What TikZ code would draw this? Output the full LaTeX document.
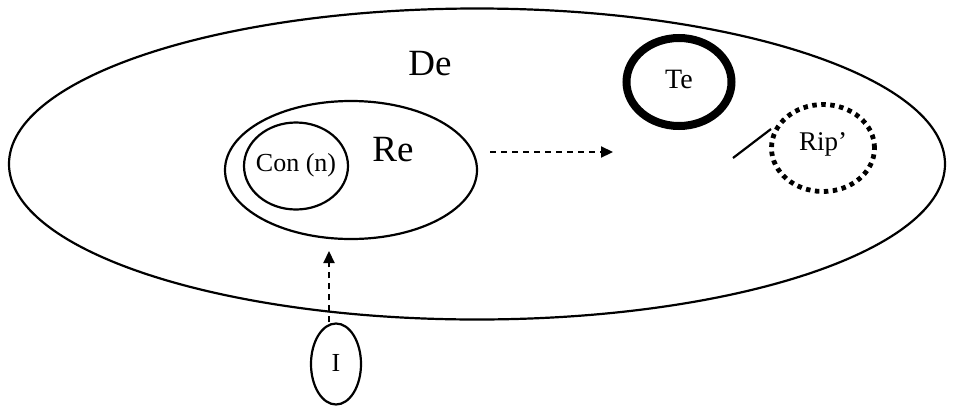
\documentclass[tikz,border=0pt]{standalone}
\usepackage{fontspec}
\setmainfont{Liberation Serif}
\usetikzlibrary{arrows.meta,shapes.geometric}
\tikzset{
  x=1pt,y=-1pt,
  oval/.style={draw,ellipse,line width=2.2pt,inner sep=0pt},
  dasharrow/.style={line width=2.2pt,dash pattern=on 6pt off 5pt,-{Triangle[length=12pt,width=11pt]}},
  lbl/.style={inner sep=0pt}
}
\begin{document}
\begin{tikzpicture}
\useasboundingbox (0,0) rectangle (954,405);
\node[oval,minimum width=936pt,minimum height=311pt] (De) at (477,164) {};
\node[lbl,font=\fontsize{37}{40}\selectfont] (DeT) at (430,64) {De};
\node[oval,minimum width=252pt,minimum height=138pt] (Re) at (351,170) {};
\node[lbl,font=\fontsize{37}{40}\selectfont] (ReT) at (393,150) {Re};
\node[oval,minimum width=104pt,minimum height=87pt] (Con) at (296,166) {};
\node[lbl,font=\fontsize{26}{30}\selectfont] (ConT) at (296,165) {Con (n)};
\node[draw,ellipse,line width=8pt,minimum width=105pt,minimum height=88pt,inner sep=0pt] (Te) at (679,82) {};
\node[lbl,font=\fontsize{28}{32}\selectfont] (TeT) at (679,79) {Te};
\node[draw,ellipse,line width=4.8pt,dash pattern=on 4.5pt off 4.5pt,minimum width=103pt,minimum height=87pt,inner sep=0pt] (Rip) at (823,148) {};
\node[lbl,font=\fontsize{27}{30}\selectfont] (RipT) at (823,144) {Rip’};
\coordinate (l1) at (733,158);
\coordinate (l2) at (771,129);
\draw[line width=2.2pt] (l1) -- (l2);
\node[oval,minimum width=50pt,minimum height=81pt] (I) at (336,364) {};
\node[lbl,font=\fontsize{26}{30}\selectfont] (IT) at (336,363) {I};
\coordinate (hs) at (490,152);
\coordinate (he) at (613,152);
\draw[dasharrow] (hs) -- (he);
\coordinate (vt) at (329,251);
\draw[dasharrow] (I.north -| vt) -- (vt);
\end{tikzpicture}
\end{document}
